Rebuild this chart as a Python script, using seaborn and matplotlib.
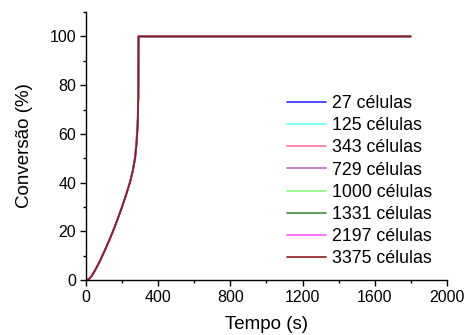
import numpy as np
import pandas as pd
import matplotlib
matplotlib.use("Agg")
import matplotlib.pyplot as plt
import seaborn as sns
from matplotlib.ticker import MultipleLocator

# Data
tempo = [0, 15, 30, 50, 75, 100, 130, 160, 190, 220, 245, 260, 272, 280, 286, 290, 291, 1800]
conv_main = [0, 0.3, 1.5, 4.0, 7.5, 11.5, 16.5, 22.0, 28.0, 34.5, 40.5, 45.0, 50.0, 56.0, 63.0, 75.0, 100, 100]
conv_27 = [0, 0.3, 1.5, 4.0, 7.5, 11.5, 16.5, 22.0, 28.0, 34.5, 40.5, 45.5, 51.0, 58.0, 66.0, 80.0, 100, 100]

series_names = ["27 células", "125 células", "343 células", "729 células",
                "1000 células", "1331 células", "2197 células", "3375 células"]
colors = ["#2b2bff", "#66ffff", "#ff6fa8", "#b070b8",
          "#80ff80", "#3d8f3d", "#ff55ff", "#8b1a1a"]

rows = []
for name in series_names:
    yv = conv_27 if name == "27 células" else conv_main
    for t, c in zip(tempo, yv):
        rows.append({"Tempo": t, "Conv": c, "Serie": name})
df = pd.DataFrame(rows)

sns.set_style("ticks")
plt.rcParams['font.family'] = ['Liberation Sans', 'DejaVu Sans']
plt.rcParams['text.color'] = 'black'
plt.rcParams['axes.labelcolor'] = 'black'
plt.rcParams['xtick.color'] = 'black'
plt.rcParams['ytick.color'] = 'black'

fig = plt.figure(figsize=(4.65, 3.35), dpi=100)
ax = fig.add_axes([0.185, 0.164, 0.776, 0.80])

sns.lineplot(data=df, x="Tempo", y="Conv", hue="Serie", hue_order=series_names,
             palette=dict(zip(series_names, colors)), ax=ax, linewidth=1.2,
             estimator=None, sort=False)

ax.set_xlim(0, 2000)
ax.set_ylim(0, 110)
ax.xaxis.set_major_locator(MultipleLocator(400))
ax.xaxis.set_minor_locator(MultipleLocator(200))
ax.yaxis.set_major_locator(MultipleLocator(20))
ax.yaxis.set_minor_locator(MultipleLocator(10))
ax.tick_params(axis='both', which='major', direction='out', length=4, width=1, labelsize=11.5,
               colors='black', pad=3)
ax.tick_params(axis='both', which='minor', direction='out', length=2.5, width=1)
for s in ['top', 'right']:
    ax.spines[s].set_visible(False)
for s in ['left', 'bottom']:
    ax.spines[s].set_linewidth(1)
    ax.spines[s].set_color('black')

ax.set_xlabel("Tempo (s)", fontsize=13.5, labelpad=8)
ax.set_ylabel("Conversão (%)", fontsize=13.5, labelpad=12)

leg = ax.legend(loc='upper left', bbox_to_anchor=(0.556, 0.69), frameon=False,
                fontsize=12.8, handlelength=2.2, handletextpad=0.35, labelspacing=0.29,
                borderaxespad=0, borderpad=0)
for line in leg.get_lines():
    line.set_linewidth(1.2)

fig.savefig("out.png", dpi=100)
